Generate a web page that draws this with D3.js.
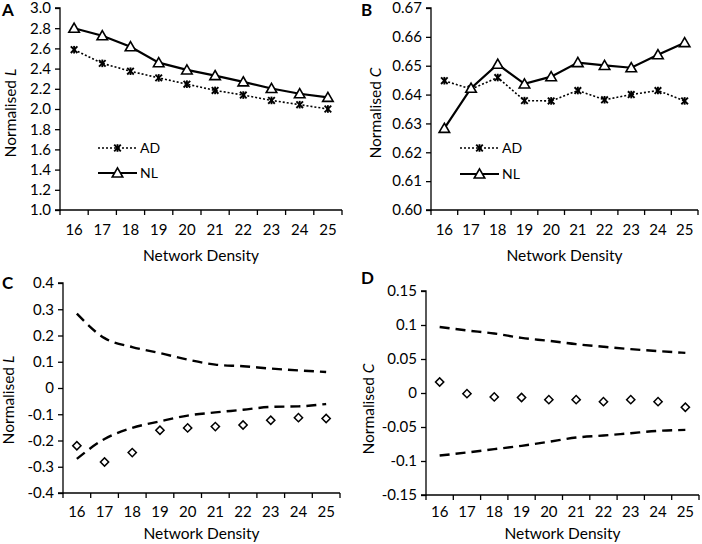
<!DOCTYPE html>
<html><head><meta charset="utf-8">
<script src="https://cdn.jsdelivr.net/npm/d3@7"></script>
<style>
body{margin:0;background:#fff;}
svg text{font-family:"Lato","Open Sans",sans-serif;fill:#000;}
</style></head>
<body><svg id="c" width="702" height="544"></svg>
<script>
const categories = [16,17,18,19,20,21,22,23,24,25];
// Panel A
const aNL = [2.80,2.725,2.616,2.459,2.387,2.331,2.269,2.203,2.151,2.115];
const aAD = [2.587,2.452,2.374,2.308,2.246,2.184,2.138,2.085,2.043,2.0];
const aTicks = [1.0,1.2,1.4,1.6,1.8,2.0,2.2,2.4,2.6,2.8,3.0];
// Panel B
const bNL = [0.6283,0.6422,0.6505,0.6437,0.6462,0.6511,0.6501,0.6493,0.6538,0.6580];
const bAD = [0.6448,0.6419,0.6459,0.6379,0.6378,0.6414,0.6382,0.6400,0.6414,0.6378];
const bTicks = [0.60,0.61,0.62,0.63,0.64,0.65,0.66,0.67];
// Panel C
const cUpper = [0.283,0.190,0.156,0.133,0.108,0.089,0.083,0.074,0.067,0.061];
const cLower = [-0.270,-0.194,-0.152,-0.127,-0.105,-0.093,-0.083,-0.072,-0.070,-0.061];
const cObs = [-0.220,-0.282,-0.246,-0.161,-0.152,-0.147,-0.141,-0.123,-0.113,-0.116];
const cTicks = [-0.4,-0.3,-0.2,-0.1,0,0.1,0.2,0.3,0.4];
const cTickLabels = ["-0.4","-0.3","-0.2","-0.1","0","0.1","0.2","0.3","0.4"];
// Panel D
const dUpper = [0.097,0.092,0.0875,0.081,0.0767,0.0718,0.068,0.0645,0.0616,0.059];
const dLower = [-0.092,-0.0875,-0.0826,-0.0777,-0.0718,-0.0655,-0.0626,-0.0591,-0.0557,-0.0543];
const dObs = [0.0161,-0.001,-0.0057,-0.0067,-0.0098,-0.0098,-0.0127,-0.0098,-0.0127,-0.021];
const dTicks = [-0.15,-0.1,-0.05,0,0.05,0.1,0.15];
const dTickLabels = ["-0.15","-0.1","-0.05","0","0.05","0.1","0.15"];

const svg = d3.select("#c");
const FS = 15;

function panel(cfg){
  const g = svg.append("g");
  const x = d3.scaleBand().domain(categories).range([cfg.left,cfg.right]);
  const y = d3.scaleLinear().domain([cfg.ticks[0],cfg.ticks[cfg.ticks.length-1]]).range([cfg.bottom,cfg.top]);
  const cx = d => x(d)+x.bandwidth()/2;
  const ya = d3.axisLeft(y).tickValues(cfg.ticks).tickSize(5).tickPadding(4)
     .tickFormat((d,i)=>cfg.labels[i]);
  const yg = g.append("g").attr("transform",`translate(${cfg.left},0)`).call(ya);
  yg.select(".domain").attr("d",`M${-5},${cfg.bottom}H0V${cfg.top}H-5`).attr("stroke","#000").attr("stroke-width",1.3);
  yg.selectAll(".tick line").attr("stroke","#000").attr("stroke-width",1.3);
  yg.selectAll("text").attr("font-size",FS);
  const xa = d3.axisBottom(x).tickSize(0).tickPadding(cfg.xPad);
  const xg = g.append("g").attr("transform",`translate(0,${cfg.bottom})`).call(xa);
  xg.select(".domain").attr("d",`M${cfg.left},0H${cfg.right}`).attr("stroke","#000").attr("stroke-width",1.3);
  xg.selectAll("text").attr("font-size",FS);
  const bounds = categories.map(c=>x(c)).concat([cfg.right]);
  xg.selectAll("line.sep").data(bounds).enter().append("line").attr("class","sep")
    .attr("x1",d=>d).attr("x2",d=>d).attr("y1",0).attr("y2",5).attr("stroke","#000").attr("stroke-width",1.3);
  g.append("text").attr("x",(cfg.left+cfg.right)/2).attr("y",cfg.titleY).attr("text-anchor","middle")
    .attr("font-size",15.5).text("Network Density");
  const yt = g.append("text").attr("transform",`translate(${cfg.yTitleX},${cfg.yTitleY}) rotate(-90)`)
    .attr("text-anchor","middle").attr("font-size",15.5);
  yt.append("tspan").text("Normalised ");
  yt.append("tspan").attr("font-style","italic").text(cfg.sym);
  g.append("text").attr("x",cfg.letterX).attr("y",cfg.letterY).attr("font-size",17).attr("font-weight","bold")
    .attr("font-family","Liberation Sans, Arial, sans-serif").text(cfg.letter);
  return {g,x,y,cx};
}

function star(g,px,py,s){
  const p = g.append("g").attr("transform",`translate(${px},${py})`).attr("stroke","#000").attr("stroke-width",1.9);
  p.append("line").attr("x1",-s).attr("y1",-s).attr("x2",s).attr("y2",s);
  p.append("line").attr("x1",-s).attr("y1",s).attr("x2",s).attr("y2",-s);
  p.append("line").attr("x1",0).attr("y1",-s-0.5).attr("x2",0).attr("y2",s+0.5);
}
const triSym = d3.symbol().type(d3.symbolTriangle).size(48);
const diaSym = d3.symbol().type(d3.symbolSquare).size(34);

function linePanel(P, nl, ad, legX, legY1, legY2){
  const lineGen = d3.line().x((d,i)=>P.cx(categories[i])).y(d=>P.y(d));
  P.g.append("path").attr("d",lineGen(ad)).attr("fill","none").attr("stroke","#000").attr("stroke-width",1.6).attr("stroke-dasharray","2,2");
  ad.forEach((v,i)=>star(P.g,P.cx(categories[i]),P.y(v),3.3));
  P.g.append("path").attr("d",lineGen(nl)).attr("fill","none").attr("stroke","#000").attr("stroke-width",2.2);
  P.g.selectAll("path.tri").data(nl).enter().append("path").attr("class","tri").attr("d",triSym)
    .attr("transform",(d,i)=>`translate(${P.cx(categories[i])},${P.y(d)+1})`)
    .attr("fill","#fff").attr("stroke","#000").attr("stroke-width",1.6);
  P.g.append("line").attr("x1",legX).attr("x2",legX+39).attr("y1",legY1).attr("y2",legY1).attr("stroke","#000").attr("stroke-width",1.6).attr("stroke-dasharray","2,2");
  star(P.g,legX+19.5,legY1,3.3);
  P.g.append("text").attr("x",legX+42).attr("y",legY1+5).attr("font-size",14).text("AD");
  P.g.append("line").attr("x1",legX).attr("x2",legX+39).attr("y1",legY2).attr("y2",legY2).attr("stroke","#000").attr("stroke-width",2.2);
  P.g.append("path").attr("d",triSym).attr("transform",`translate(${legX+19.5},${legY2+1})`).attr("fill","#fff").attr("stroke","#000").attr("stroke-width",1.6);
  P.g.append("text").attr("x",legX+42).attr("y",legY2+5).attr("font-size",14).text("NL");
}

function envPanel(P, up, lo, obs){
  const lineGen = d3.line().curve(d3.curveMonotoneX).x((d,i)=>P.cx(categories[i])).y(d=>P.y(d));
  [up,lo].forEach(arr=>P.g.append("path").attr("d",lineGen(arr)).attr("fill","none").attr("stroke","#000")
    .attr("stroke-width",2.4).attr("stroke-dasharray","10,6"));
  P.g.selectAll("path.dia").data(obs).enter().append("path").attr("class","dia").attr("d",diaSym)
    .attr("transform",(d,i)=>`translate(${P.cx(categories[i])},${P.y(d)}) rotate(45)`)
    .attr("fill","#fff").attr("stroke","#000").attr("stroke-width",1.5);
}

const A = panel({left:60,right:342,top:8,bottom:210,ticks:aTicks,labels:aTicks.map(d=>d.toFixed(1)),
  xPad:14,titleY:261,yTitleX:16,yTitleY:113,sym:"L",letter:"A",letterX:2,letterY:16});
linePanel(A,aNL,aAD,98,148,173);
const B = panel({left:431,right:698,top:8,bottom:210,ticks:bTicks,labels:bTicks.map(d=>d.toFixed(2)),
  xPad:14,titleY:261,yTitleX:381,yTitleY:113,sym:"C",letter:"B",letterX:361,letterY:16});
linePanel(B,bNL,bAD,460,148,174);
const C = panel({left:63,right:340,top:283,bottom:493,ticks:cTicks,labels:cTickLabels,
  xPad:13,titleY:539,yTitleX:14,yTitleY:400,sym:"L",letter:"C",letterX:2,letterY:289});
envPanel(C,cUpper,cLower,cObs);
const D = panel({left:426,right:699,top:291,bottom:495,ticks:dTicks,labels:dTickLabels,
  xPad:11,titleY:539,yTitleX:374,yTitleY:409,sym:"C",letter:"D",letterX:361,letterY:284});
envPanel(D,dUpper,dLower,dObs);
</script></body></html>
